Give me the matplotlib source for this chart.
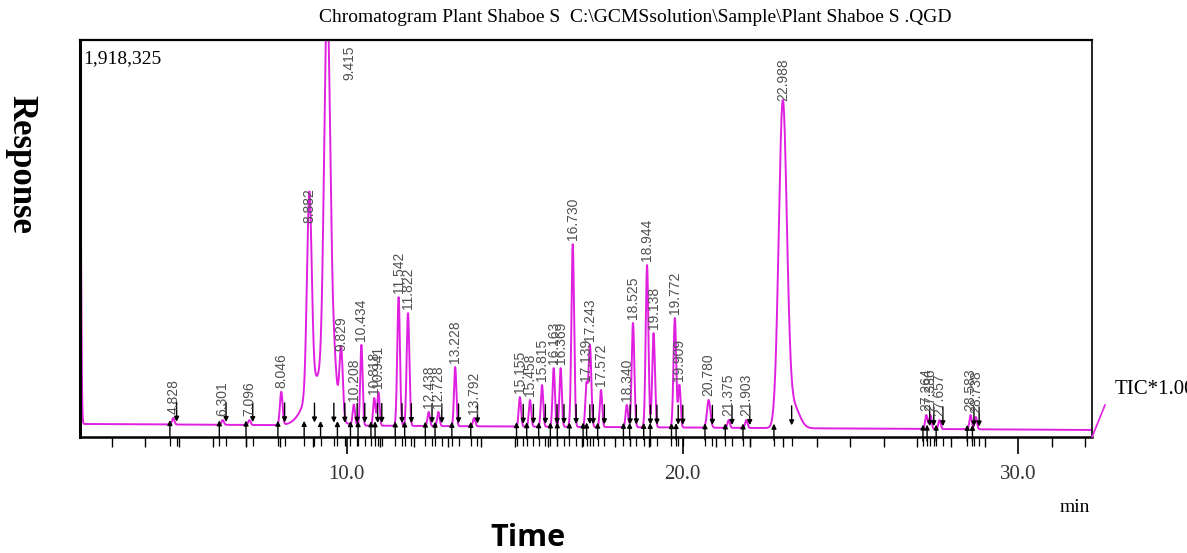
import matplotlib
matplotlib.use("Agg")
import matplotlib.pyplot as plt
import numpy as np

# Retention times (min) and labels of the integrated peaks
peak_rt = [4.828, 6.301, 7.096, 8.046, 8.882, 9.415, 9.829, 10.208, 10.434,
           10.818, 10.941, 11.542, 11.822, 12.438, 12.728, 13.228, 13.792,
           15.155, 15.458, 15.815, 16.163, 16.369, 16.730, 17.139, 17.243,
           17.572, 18.340, 18.525, 18.944, 19.138, 19.772, 19.909, 20.780,
           21.375, 21.903, 22.988, 27.264, 27.386, 27.657, 28.583, 28.738]
peak_label = ["4.828", "6.301", "7.096", "8.046", "8.882", "9.415", "9.829",
              "10.208", "10.434", "10.818", "10.941", "11.542", "11.822",
              "12.438", "12.728", "13.228", "13.792", "15.155", "15.458",
              "15.815", "16.163", "16.369", "16.730", "17.139", "17.243",
              "17.572", "18.340", "18.525", "18.944", "19.138", "19.772",
              "19.909", "20.780", "21.375", "21.903", "22.988", "27.264",
              "27.386", "27.657", "28.583", "28.738"]
# apex intensity (counts)
peak_top = [92000, 82000, 82000, 217000, 1015000, 1950000, 396000, 155000,
            445000, 188000, 217000, 676000, 599000, 121000, 121000, 338000,
            92000, 193000, 179000, 251000, 333000, 333000, 932000, 251000,
            445000, 227000, 155000, 551000, 831000, 502000, 575000, 251000,
            179000, 82000, 82000, 1604000, 106000, 106000, 82000, 106000,
            97000]
peak_sigma = [0.035, 0.035, 0.035, 0.04, 0.07, 0.09, 0.05, 0.035, 0.035,
              0.035, 0.035, 0.04, 0.04, 0.035, 0.035, 0.035, 0.035,
              0.035, 0.035, 0.035, 0.035, 0.035, 0.04, 0.035, 0.04,
              0.035, 0.035, 0.04, 0.04, 0.04, 0.04, 0.035, 0.05,
              0.035, 0.035, 0.12, 0.035, 0.035, 0.035, 0.035, 0.035]

# unlabeled humps / shoulders seen on the trace
hump_rt = [2.05, 9.15, 9.62, 23.3]
hump_top = [1400000, 230000, 220000, 110000]
hump_sigma = [0.03, 0.35, 0.08, 0.18]

# baseline drift (counts) at start and end of the run
base_t = [2.05, 32.2]
base_v = [63000, 34000]

y_max = 1918325

fig = plt.figure(figsize=(11.87, 5.53), dpi=100)
ax = fig.add_axes([80 / 1187, 1 - 437 / 553, 1012 / 1187, 397 / 553])

t = np.linspace(2.05, 32.2, 8000)
base = np.interp(t, base_t, base_v)
sig = base.copy()
for rt, top, s in zip(peak_rt, peak_top, peak_sigma):
    b = np.interp(rt, base_t, base_v)
    sig += (top - b) * np.exp(-0.5 * ((t - rt) / s) ** 2)
for rt, top, s in zip(hump_rt, hump_top, hump_sigma):
    sig += top * np.exp(-0.5 * ((t - rt) / s) ** 2)

ax.plot(t, sig, color="#e020e0", lw=1.4)

# integration marks and peak labels
for rt, lab, top, s in zip(peak_rt, peak_label, peak_top, peak_sigma):
    b = np.interp(rt, base_t, base_v)
    x0 = rt - max(0.1, 2.2 * s)
    x1 = rt + max(0.1, 2.2 * s)
    ax.annotate("", xy=(x0, b + 35000), xytext=(0, -16), textcoords="offset points",
                arrowprops=dict(arrowstyle="-|>", color="black", lw=1.0,
                                mutation_scale=7))
    ax.annotate("", xy=(x1, b), xytext=(0, 18), textcoords="offset points",
                arrowprops=dict(arrowstyle="-|>", color="black", lw=1.0,
                                mutation_scale=7))
    ax.vlines([x0, x1], -0.022, 0, transform=ax.get_xaxis_transform(),
              color="black", lw=0.9, clip_on=False)
    if top > y_max:
        ax.text(rt + 0.65, y_max * 0.985, lab, rotation=90, ha="center",
                va="top", fontsize=10, color="#505050",
                family="Liberation Sans")
    else:
        ax.annotate(lab, xy=(rt, top), xytext=(0, 3), textcoords="offset points",
                    rotation=90, ha="center", va="bottom", fontsize=10,
                    color="#505050", family="Liberation Sans")

ax.set_xlim(2.05, 32.2)
ax.set_ylim(0, y_max)
ax.set_xticks([10, 20, 30])
ax.set_xticklabels(["10.0", "20.0", "30.0"], family="Liberation Serif",
                   fontsize=15, color="#333333")
ax.set_xticks(np.arange(3, 33, 1), minor=True)
ax.tick_params(axis="x", which="major", direction="out", length=12, width=1.2,
               pad=8)
ax.tick_params(axis="x", which="minor", direction="out", length=7, width=1.0)
ax.set_yticks([])
ax.spines["left"].set_linewidth(2.2)
ax.spines["bottom"].set_linewidth(1.8)
ax.spines["top"].set_linewidth(1.6)
ax.spines["right"].set_linewidth(1.2)

ax.text(0.003, 0.975, "1,918,325", transform=ax.transAxes, ha="left", va="top",
        family="Liberation Serif", fontsize=14)

fig.text(635 / 1187, 1 - 18 / 553,
         "Chromatogram Plant Shaboe S  C:\\GCMSsolution\\Sample\\Plant Shaboe S .QGD",
         ha="center", va="center", family="Liberation Serif", fontsize=14)
fig.text(1075 / 1187, 1 - 507 / 553, "min", ha="center", va="center",
         family="Liberation Serif", fontsize=14)
fig.text(1115 / 1187, 1 - 390 / 553, "TIC*1.00", ha="left", va="center",
         family="Liberation Serif", fontsize=15)
fig.add_artist(plt.Line2D([1092 / 1187, 1105 / 1187], [1 - 437 / 553, 1 - 405 / 553],
                          color="#e020e0", lw=1.2))

fig.text(528 / 1187, 1 - 538 / 553, "Time", ha="center", va="center",
         family="Open Sans", fontweight="bold", fontsize=22)
fig.text(21 / 1187, 1 - 164 / 553, "Response", ha="center", va="center",
         rotation=270, family="Liberation Serif", fontweight="bold", fontsize=25)

fig.savefig("out.png", dpi=100)
